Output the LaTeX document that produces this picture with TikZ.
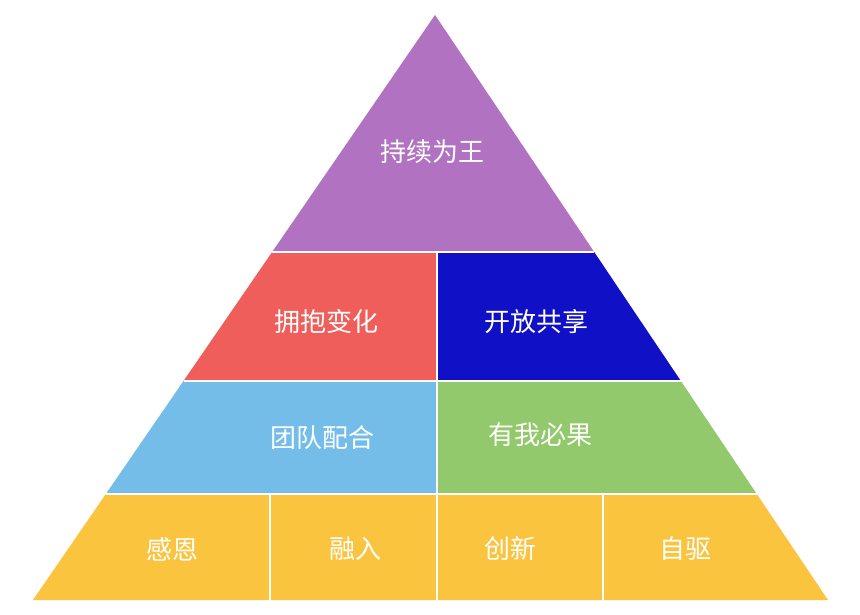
\documentclass[tikz,border=0pt]{standalone}
\usepackage{fontspec}
\usepackage{tikz}
\usetikzlibrary{calc}
\newfontfamily\cjk{Noto Sans CJK SC}
\definecolor{pytop}{RGB}{177,115,193}
\definecolor{pyred}{RGB}{239,94,90}
\definecolor{pyblue}{RGB}{16,16,198}
\definecolor{pysky}{RGB}{116,189,232}
\definecolor{pygreen}{RGB}{146,201,108}
\definecolor{pygold}{RGB}{251,196,63}
\tikzset{
  lbl/.style={text=white, inner sep=0pt, font=\cjk\fontsize{26}{26}\selectfont},
  gap/.style={draw=white, line width=2.4pt}
}

\begin{document}
\begin{tikzpicture}[x=1pt,y=-1pt]
  \useasboundingbox[fill=white] (0,0) rectangle (860,615);
  \coordinate (apex) at (435,15);
  \coordinate (bl) at (33,600);
  \coordinate (br) at (828,600);
  \coordinate (mid) at (437,0);
  % band edges on both sides
  \foreach \n/\t in {a/0.4051,b/0.6256,c/0.8188}{
    \coordinate (l\n) at ($(apex)!\t!(bl)$);
    \coordinate (r\n) at ($(apex)!\t!(br)$);
  }
  \fill[pytop] (apex) -- (ra) -- (la) -- cycle;
  \fill[pyred] (la) -- (la -| mid) -- (lb -| mid) -- (lb) -- cycle;
  \fill[pyblue] (la -| mid) -- (ra) -- (rb) -- (lb -| mid) -- cycle;
  \fill[pysky] (lb) -- (lb -| mid) -- (lc -| mid) -- (lc) -- cycle;
  \fill[pygreen] (lb -| mid) -- (rb) -- (rc) -- (lc -| mid) -- cycle;
  \fill[pygold] (lc) -- (rc) -- (br) -- (bl) -- cycle;
  % white gaps
  \draw[gap] (la) -- (ra);
  \draw[gap] (lb) -- (rb);
  \draw[gap] (lc) -- (rc);
  \draw[gap] (la -| mid) -- (lc -| mid);
  \foreach \x in {270,437,603}
    \draw[gap] (lc -| \x,0) -- (bl -| \x,0);
  % labels
  \node[lbl] (wang) at (432,152) {持续为王};
  \node[lbl] (bian) at (326,322) {拥抱变化};
  \node[lbl] (xiang) at (536,322) {开放共享};
  \node[lbl] (tuan) at (322,438) {团队配合};
  \node[lbl] (guo) at (540,435) {有我必果};
  \node[lbl] (en) at (172,549) {感恩};
  \node[lbl] (rong) at (355,549) {融入};
  \node[lbl] (xin) at (510,549) {创新};
  \node[lbl] (qu) at (685,549) {自驱};
\end{tikzpicture}
\end{document}
